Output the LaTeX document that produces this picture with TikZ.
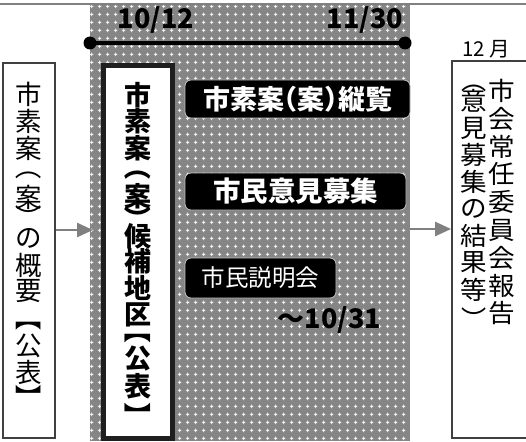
\documentclass[tikz,border=0pt]{standalone}
\usepackage{fontspec}
\setmainfont{Noto Sans CJK JP}
\newfontfamily\halfcjk[RawFeature=+halt]{Noto Sans CJK JP}
\usetikzlibrary{patterns,arrows.meta}
\pgfdeclarepatternformonly{plusgrid}{\pgfqpoint{0pt}{0pt}}{\pgfqpoint{8pt}{8pt}}{\pgfqpoint{8pt}{8pt}}{%
 \pgfpathrectangle{\pgfqpoint{3.5pt}{2pt}}{\pgfqpoint{1pt}{4pt}}%
 \pgfpathrectangle{\pgfqpoint{2pt}{3.5pt}}{\pgfqpoint{4pt}{1pt}}%
 \pgfusepath{fill}}
\tikzset{
 vch/.style={inner sep=0pt, font=\fontsize{26.5}{26.5}\selectfont},
 vchb/.style={inner sep=0pt, font=\fontsize{27}{27}\selectfont\bfseries},
 vchr/.style={inner sep=0pt, font=\fontsize{28}{28}\selectfont},
 blk/.style={fill=black, draw=gray!45, rounded corners=6pt, line width=0.8pt, text=white, inner sep=0pt},
 datel/.style={font=\fontsize{27}{27}\selectfont\bfseries, inner sep=0pt},
 arr/.style={draw=gray, line width=2.5pt, -{Triangle[length=16pt,width=14pt]}},
 framebox/.style={draw=black!75, line width=1.8pt, inner sep=0pt},
}
\begin{document}
\begin{tikzpicture}[x=1pt,y=-1pt]
\useasboundingbox (0,0) rectangle (526,441);
% shaded period band
\fill[black!48] (90,5) rectangle (410,441);
\fill[pattern=plusgrid, pattern color=white!92!black] (90,5) rectangle (410,441);
\draw[gray, line width=1.5pt] (0,4) -- (526,4);
% timeline
\coordinate (t1) at (90,43);
\coordinate (t2) at (405,43);
\draw[line width=3.5pt] (t1) -- (t2);
\fill (t1) circle (6.5pt);
\fill (t2) circle (6.5pt);
\node[datel] (d1) at (156,20) {10/12};
\node[datel] (d2) at (365,20) {11/30};
% left box
\node[framebox, fill=white, minimum width=52pt, minimum height=375pt] (lbox) at (29,250.5) {};
\foreach \c/\y/\r [count=\i] in {市/94/0, 素/121.5/0, 案/148.5/0, （/166.5/-90, 案/197/0, ）/218/-90, の/238.5/0, 概/265/0, 要/291/0, 【/317.5/-90, 公/345.5/0, 表/372.5/0, 】/398/-90}
  \node[vch, rotate=\r] (L\i) at (29,\y) {\c};
% middle box
\node[draw=black!88, line width=5pt, fill=white, inner sep=0pt, minimum width=69pt, minimum height=373pt] (mbox) at (138,252) {};
\foreach \c/\y/\r [count=\i] in {市/95/0, 素/121.5/0, 案/148.5/0, （/166.5/-90, 案/196/0, ）/219/-90, 候/236/0, 補/261.5/0, 地/287.5/0, 区/315/0, 【/330/-90, 公/358.5/0, 表/386.5/0, 】/416/-90}
  \node[vchb, rotate=\r] (M\i) at (138,\y) {\c};
% black labels
\node[blk, minimum width=225pt, minimum height=38pt, font=\halfcjk\fontsize{27}{27}\selectfont\bfseries] (b1) at (297.5,99) {市素案（案）縦覧};
\node[blk, minimum width=221pt, minimum height=37pt, font=\fontsize{27.5}{27.5}\selectfont\bfseries] (b2) at (295.5,191.5) {市民意見募集};
\node[blk, minimum width=151pt, minimum height=40pt, font=\fontsize{23.5}{23.5}\selectfont] (b3) at (260.5,278) {市民説明会};
\node[datel] (d3) at (329.5,320) {～10/31};
% right box
\node[framebox, fill=white, minimum width=88pt, minimum height=377pt] (rbox) at (496,249.5) {};
\node[anchor=south west, inner sep=0pt, font=\fontsize{20.5}{20.5}\selectfont] (m12) at (462,58) {12\hspace{5pt}月};
\foreach \c/\y [count=\i] in {市/91, 会/119, 常/147, 任/174, 委/202, 員/230, 会/258, 報/286, 告/313}
  \node[vchr] (R\i) at (502,\y) {\scalebox{0.95}[0.9]{\c}};
\foreach \c/\y/\r [count=\i] in {（/80/-90, 意/101/0, 見/128/0, 募/155/0, 集/182/0, の/209/0, 結/236/0, 果/263/0, 等/290/0, ）/320/-90}
  \node[vchr, rotate=\r] (S\i) at (474,\y) {\scalebox{0.95}[0.9]{\c}};
% arrows
\coordinate (pl) at (93,230);
\coordinate (pr) at (410,229);
\draw[arr] (lbox.east |- pl) -- (pl);
\draw[arr] (pr) -- (rbox.west |- pr);
\end{tikzpicture}
\end{document}
